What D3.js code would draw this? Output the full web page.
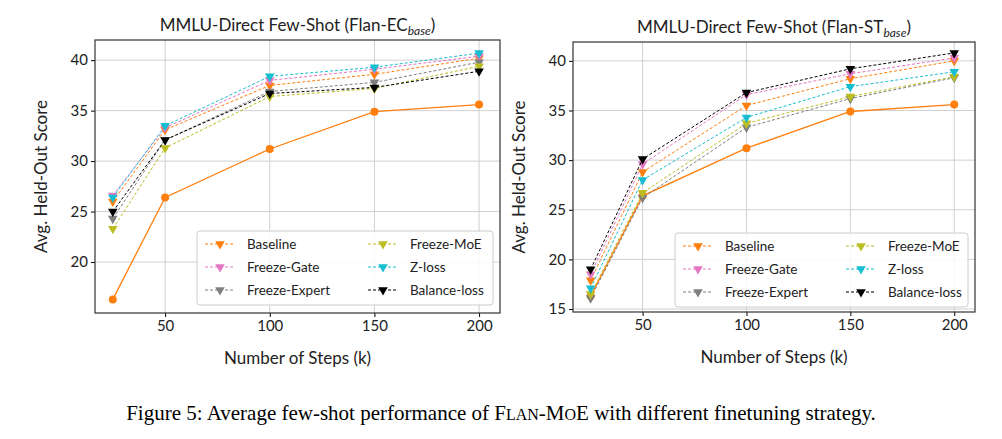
<!DOCTYPE html><html><head><meta charset="utf-8">
<script src="https://cdn.jsdelivr.net/npm/d3@7"></script>
<style>body{margin:0;background:#fff}text{font-family:Lato,sans-serif}</style></head><body>
<svg id="c" width="1002" height="439"></svg>
<script>
const steps=[25,50,100,150,200];
const xTicks=[50,100,150,200];
const seriesNames=["Baseline","Freeze-Gate","Freeze-Expert","Freeze-MoE","Z-loss","Balance-loss"];
const colors=["#ff7f0e","#e377c2","#7f7f7f","#bcbd22","#17becf","#000000"];
const ref=[16.3,26.4,31.2,34.9,35.6];
const leftVals=[
[26.0,33.1,37.5,38.6,40.2],
[26.6,33.3,38.0,39.1,40.4],
[24.3,32.1,36.9,37.8,39.8],
[23.3,31.3,36.4,37.2,39.4],
[26.4,33.5,38.4,39.3,40.7],
[25.0,32.1,36.7,37.3,38.9]];
const rightVals=[
[17.9,28.8,35.5,38.2,40.0],
[18.5,29.6,36.6,38.7,40.3],
[16.1,26.2,33.3,36.2,38.3],
[16.5,26.7,33.7,36.4,38.4],
[17.1,28.0,34.3,37.4,38.9],
[19.0,30.1,36.8,39.2,40.8]];
const leftYTicks=[20,25,30,35,40], rightYTicks=[15,20,25,30,35,40];
const svg=d3.select("#c");
function panel(x0,x1,y0,y1,ydom,yt,vals,sub){
 const g=svg.append("g");
 const x=d3.scaleLinear().domain([16.5,210]).range([x0,x1]);
 const y=d3.scaleLinear().domain(ydom).range([y1,y0]);
 xTicks.forEach(t=>g.append("line").attr("x1",x(t)).attr("x2",x(t)).attr("y1",y0).attr("y2",y1).attr("stroke","#d0d0d0"));
 yt.forEach(t=>g.append("line").attr("x1",x0).attr("x2",x1).attr("y1",y(t)).attr("y2",y(t)).attr("stroke","#d0d0d0"));
 const ax=g.append("g").attr("transform",`translate(0,${y1})`).call(d3.axisBottom(x).tickValues(xTicks).tickSize(4));
 const ay=g.append("g").attr("transform",`translate(${x0},0)`).call(d3.axisLeft(y).tickValues(yt).tickSize(4));
 [ax,ay].forEach(a=>{a.select(".domain").remove();a.selectAll("text").attr("font-size",15).attr("fill","#222").attr("font-family","Lato");});
 const line=d3.line().x((d,i)=>x(steps[i])).y(d=>y(d));
 g.append("path").attr("d",line(ref)).attr("fill","none").attr("stroke","#ff7f0e").attr("stroke-width",1.3);
 ref.forEach((v,i)=>g.append("circle").attr("cx",x(steps[i])).attr("cy",y(v)).attr("r",4).attr("fill","#ff7f0e"));
 const tri=d3.symbol().type(d3.symbolTriangle).size(40);
 vals.forEach((s,k)=>{
  g.append("path").attr("d",line(s)).attr("fill","none").attr("stroke",colors[k]).attr("stroke-width",1).attr("stroke-dasharray","3,2");
  s.forEach((v,i)=>g.append("path").attr("d",tri).attr("transform",`translate(${x(steps[i])},${y(v)}) rotate(180)`).attr("fill",colors[k]));
 });
 g.append("rect").attr("x",x0).attr("y",y0).attr("width",x1-x0).attr("height",y1-y0).attr("fill","none").attr("stroke","#333").attr("stroke-width",1.2);
 const lx=x0+102, ly=y0+191;
 g.append("rect").attr("x",lx).attr("y",ly).attr("width",x1-lx-7).attr("height",74).attr("rx",3).attr("fill","#fff").attr("fill-opacity",0.85).attr("stroke","#ccc");
 seriesNames.forEach((n,k)=>{
  const cx=lx+8+(k>=3?163:0), cy=ly+13+(k%3)*23;
  g.append("line").attr("x1",cx).attr("x2",cx+30).attr("y1",cy).attr("y2",cy).attr("stroke",colors[k]).attr("stroke-dasharray","3,2");
  g.append("path").attr("d",tri).attr("transform",`translate(${cx+15},${cy}) rotate(180)`).attr("fill",colors[k]);
  g.append("text").attr("x",cx+42).attr("y",cy+5).attr("font-size",13.5).attr("fill","#222").text(n);
 });
 const t=g.append("text").attr("x",(x0+x1)/2).attr("y",y0-9).attr("text-anchor","middle").attr("font-size",17).attr("fill","#222");
 t.append("tspan").text(`MMLU-Direct Few-Shot (Flan-${sub}`);
 t.append("tspan").attr("font-style","italic").attr("font-size",12).attr("dy",4).text("base");
 t.append("tspan").attr("dy",-4).text(")");
 g.append("text").attr("x",(x0+x1)/2).attr("y",y1+51).attr("text-anchor","middle").attr("font-size",17).attr("fill","#222").text("Number of Steps (k)");
 g.append("text").attr("transform",`translate(${x0-48},${(y0+y1)/2}) rotate(-90)`).attr("text-anchor","middle").attr("font-size",17).attr("fill","#222").text("Avg. Held-Out Score");
}
panel(95,500,40,313,[14.95,42],leftYTicks,leftVals,"EC");
panel(573,975,42,312,[14.7,41.9],rightYTicks,rightVals,"ST");
const cap=svg.append("text").attr("x",501).attr("y",420).attr("text-anchor","middle").attr("font-size",21).attr("fill","#000").style("font-family","'Liberation Serif',serif");
cap.append("tspan").text("Figure 5: Average few-shot performance of F");
cap.append("tspan").attr("font-size",16).text("LAN");
cap.append("tspan").text("-M");
cap.append("tspan").attr("font-size",16).text("O");
cap.append("tspan").text("E with different finetuning strategy.");
</script></body></html>
